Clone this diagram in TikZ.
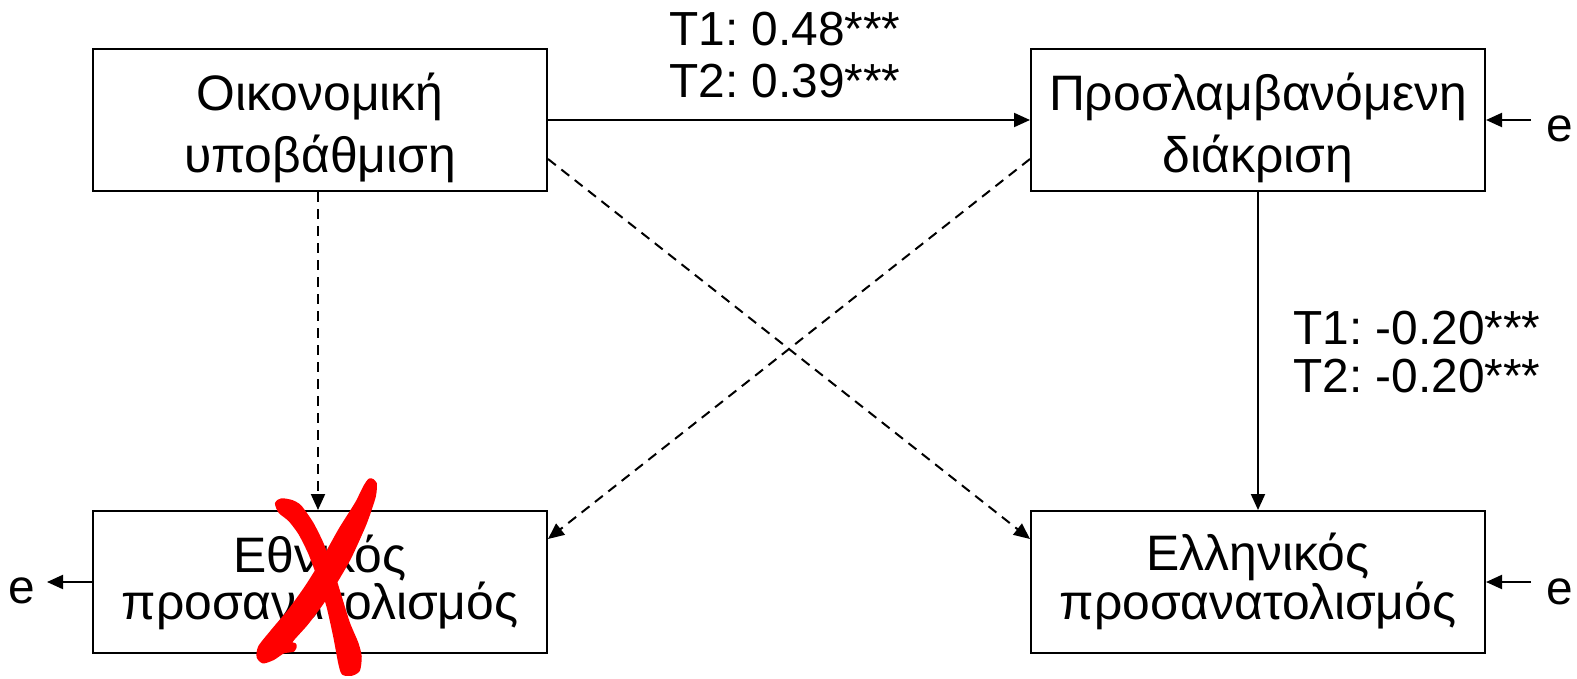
\documentclass[tikz,border=0pt]{standalone}
\usepackage{fontspec}
\setmainfont{Liberation Sans}
\usetikzlibrary{arrows.meta}
\frenchspacing
\tikzset{
  box/.style={draw, line width=2bp, minimum width=454bp, minimum height=142bp, align=center, inner sep=0pt},
  topbox/.style={box, font=\fontsize{50}{62}\selectfont, text height=110bp, text depth=6bp},
  botbox/.style={box, font=\fontsize{50}{47}\selectfont, text height=80bp, text depth=6bp},
  lab/.style={align=center, inner sep=0pt},
  conn/.style={line width=2bp, -{Triangle[length=16bp,width=14bp]}},
  dconn/.style={conn, dash pattern=on 10bp off 7bp},
  xmark/.style={fill=red, draw=red, line width=3.5bp, line join=round}
}
\begin{document}
\begin{tikzpicture}[x=1bp,y=-1bp]
\useasboundingbox (0,0) rectangle (1577,679);
\node[topbox] (A) at (320,120) {Οικονομική\\υποβάθμιση};
\node[topbox] (B) at (1258,120) {Προσλαμβανόμενη\\διάκριση};
\node[botbox] (C) at (320,582) {Εθνικός\\προσανατολισμός};
\node[botbox] (D) at (1258,582) {Ελληνικός\\προσανατολισμός};
\node[lab, font=\fontsize{48}{52}\selectfont] (l1) at (785,55) {T1: 0.48***\\T2: 0.39***};
\node[lab, font=\fontsize{48}{48}\selectfont] (l2) at (1417,352) {T1: -0.20***\\T2: -0.20***};
\node[lab, font=\fontsize{48}{52}\selectfont, anchor=base] (eB) at (1560,142) {e};
\node[lab, font=\fontsize{48}{52}\selectfont, anchor=base] (eC) at (22,603) {e};
\node[lab, font=\fontsize{48}{52}\selectfont, anchor=base] (eD) at (1560,604) {e};
\coordinate (eBs) at (1531,120);
\coordinate (eDs) at (1531,582);
\coordinate (eCe) at (47,582);
\draw[conn] (A.east) -- (B.west);
\draw[conn] (B.south) -- (D.north);
\draw[dconn] ([xshift=-2bp]A.south) -- ([xshift=-2bp]C.north);
\draw[dconn] ([yshift=-39bp]A.east) -- ([yshift=43bp]D.west);
\draw[dconn] ([yshift=-39bp]B.west) -- ([yshift=43bp]C.east);
\draw[conn] (eBs) -- (B.east);
\draw[conn] (eDs) -- (D.east);
\draw[conn] (C.west) -- (eCe);
% red X
\filldraw[xmark] plot[smooth cycle, tension=0.4] coordinates {
  (276.7,503.3) (281.7,500) (291.7,501.7) (300,506.7) (311.7,523.3) (321.7,543.3) (331.7,570)
  (340,596.7) (348.3,623.3) (356.7,643.3) (360,656.7) (358.3,670) (351.7,674) (343.3,673.3)
  (340,663.3) (335,636.7) (328.3,606.7) (320,580) (310,553.3) (300,533.3) (290,520) (280,511.7)};
\filldraw[xmark] plot[smooth cycle, tension=0.4] coordinates {
  (370,480) (375,483.3) (374,496.7) (365,523.3) (350,556.7) (336.7,580) (321.7,603.3)
  (306.7,623.3) (293.3,638.3) (290,643.3) (295,645) (293.3,650) (283.3,651.7) (273.3,658.3)
  (263.3,661.7) (258.3,656.7) (260,646.7) (273.3,630) (290,610) (306.7,586.7) (323.3,560)
  (340,530) (356.7,503.3) (365,486.7)};
\end{tikzpicture}
\end{document}
